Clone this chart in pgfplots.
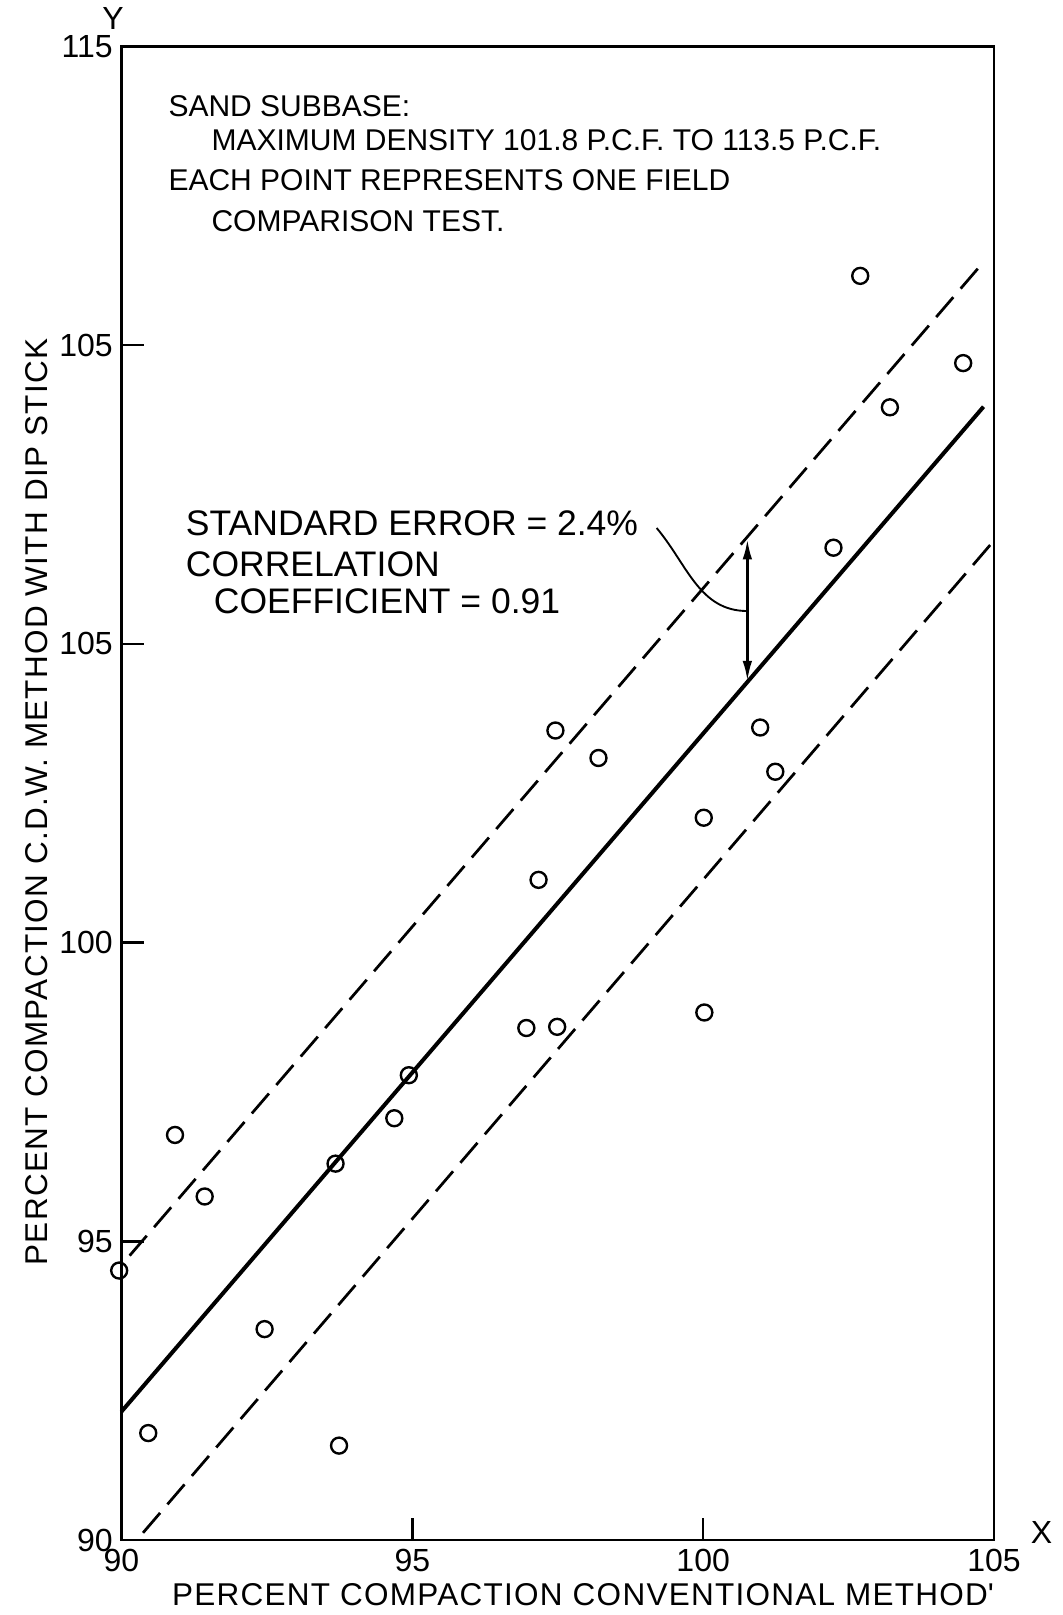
\documentclass[border=0pt]{standalone}
\usepackage{fontspec}
\setmainfont{Liberation Sans}
\newfontfamily\lbl[LetterSpace=4]{Liberation Sans}
\usepackage{pgfplots}
\pgfplotsset{compat=1.18}
\usetikzlibrary{arrows.meta}
\begin{document}
\begin{tikzpicture}
\begin{axis}[
  scale only axis, width=349pt, height=597.4pt,
  xmin=90, xmax=105, ymin=90, ymax=115,
  xtick={90,95,100,105}, ytick={90,95,100,105,110,115},
  xticklabels={90,95,100,105},
  yticklabels={90,95,100,105,105,115},
  tick pos=left, tick align=inside, major tick length=9pt,
  axis line style={line width=1pt},
  every tick/.style={line width=1pt, black},
  /pgf/number format/assume math mode=true,
  tick label style={font=\fontsize{12.8}{15}\selectfont},
  xlabel={\lbl PERCENT COMPACTION CONVENTIONAL METHOD\textquotesingle},
  ylabel={\lbl PERCENT COMPACTION C.D.W. METHOD WITH DIP STICK},
  xlabel style={at={(axis description cs:0.529,-0.0365)}, anchor=center, font=\fontsize{12.6}{15}\selectfont},
  ylabel style={at={(axis description cs:-0.097,0.494)}, anchor=center, font=\fontsize{12.6}{15}\selectfont},
  clip=false,
]
% regression line and standard error bands
\addplot[black, line width=1.6pt] coordinates {(90,92.15) (104.82,108.97)};
\addplot[black, line width=1.1pt, dash pattern=on 10.5pt off 4.5pt] coordinates {(90.14,94.76) (104.80,111.37)};
\addplot[black, line width=1.1pt, dash pattern=on 10.5pt off 4.5pt] coordinates {(90.37,90.12) (105,106.73)};
% field comparison tests
\addplot[only marks, mark=o, mark size=3.2pt, mark options={line width=0.95pt, fill=white, black}] coordinates {
(89.96,94.51) (90.46,91.79) (90.92,96.78) (91.43,95.75) (92.46,93.53)
(93.68,96.30) (93.74,91.58) (94.69,97.06) (94.94,97.78) (96.96,98.57)
(97.17,101.05) (97.49,98.59) (97.46,103.55) (98.20,103.09) (100.01,102.09)
(100.02,98.83) (100.98,103.60) (101.24,102.86) (102.24,106.61) (102.70,111.16)
(103.21,108.96) (104.47,109.70)};
% standard error arrow
\addplot[black, line width=1pt, {Latex[length=8pt,width=3.8pt]}-{Latex[length=8pt,width=3.8pt]}] coordinates {(100.76,106.75) (100.76,104.38)};
\draw[line width=0.75pt] (axis cs:99.20,106.94) to[out=-50,in=180] (axis cs:100.76,105.55);
% text blocks
\begin{scope}[every node/.style={font=\fontsize{12}{14}\selectfont, anchor=base west, inner sep=0pt}]
\node at (axis cs:90.80,113.83) {SAND SUBBASE:};
\node at (axis cs:91.54,113.26) {MAXIMUM DENSITY 101.8 P.C.F. TO 113.5 P.C.F.};
\node at (axis cs:90.80,112.59) {EACH POINT REPRESENTS ONE FIELD};
\node at (axis cs:91.54,111.90) {COMPARISON TEST.};
\end{scope}
\begin{scope}[every node/.style={font=\fontsize{14.2}{16}\selectfont, anchor=base west, inner sep=0pt}]
\node at (axis cs:91.10,106.82) {STANDARD ERROR = 2.4\%};
\node at (axis cs:91.10,106.13) {CORRELATION};
\node at (axis cs:91.58,105.51) {COEFFICIENT = 0.91};
\end{scope}
\node[font=\fontsize{12.8}{15}\selectfont, inner sep=0pt] at ([xshift=19pt,yshift=3pt]axis cs:105,90) {X};
\node[font=\fontsize{12.8}{15}\selectfont, inner sep=0pt] at ([xshift=-3.4pt,yshift=11.2pt]axis cs:90,115) {Y};
\end{axis}
\pgfresetboundingbox
\path ([shift={(-48.6pt,-30pt)}]current axis.south west) rectangle ([shift={(27.2pt,18.6pt)}]current axis.north east);
\end{tikzpicture}
\end{document}
